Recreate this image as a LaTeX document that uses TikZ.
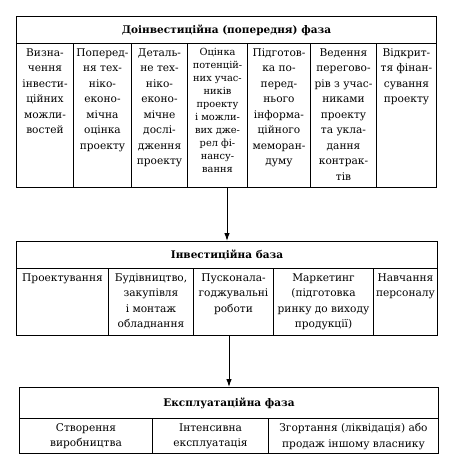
\documentclass[tikz,border=0pt]{standalone}
\usepackage{fontspec}
\setmainfont{DejaVu Serif}
\usetikzlibrary{arrows.meta}
\tikzset{cell/.style 2 args={draw, line width=1pt, inner sep=0pt, anchor=north west,
    font=\fontsize{10.6}{15.5}\selectfont,
    execute at begin node={\begin{minipage}[b][#2pt][t]{#1pt}\centering\vspace*{5pt}},
    execute at end node={\end{minipage}}},
  head/.style={draw, line width=1pt, inner sep=0pt, anchor=north west,
    font=\fontsize{10.5}{12}\selectfont\bfseries},
  arr/.style={-{Latex[length=8pt,width=5.5pt]}, line width=1pt}}

\begin{document}
\begin{tikzpicture}[x=1pt,y=-1pt]
\useasboundingbox (0,0) rectangle (455,461);
% pre-investment phase
\node[head, minimum width=420, minimum height=27] (hd1) at (16,16) {Доінвестиційна (попередня) фаза};
\node[cell={57}{144}] (c1) at (16,43) {Визна-\\чення\\інвести-\\ційних\\можли-\\востей};
\node[cell={58}{144}] (c2) at (73,43) {Поперед-\\ня тех-\\ніко-\\еконо-\\мічна\\оцінка\\проекту};
\node[cell={56}{144}] (c3) at (131,43) {Деталь-\\не тех-\\ніко-\\еконо-\\мічне\\дослі-\\дження\\проекту};
\node[cell={60}{144}, font=\fontsize{9.8}{13}\selectfont] (c4) at (187,43) {Оцінка\\потенцій-\\них учас-\\ників\\проекту\\і можли-\\вих дже-\\рел фі-\\нансу-\\вання};
\node[cell={63}{144}] (c5) at (247,43) {Підготов-\\ка по-\\перед-\\нього\\інформа-\\ційного\\меморан-\\думу};
\node[cell={66}{144}] (c6) at (310,43) {Ведення\\перегово-\\рів з учас-\\никами\\проекту\\та укла-\\дання\\контрак-\\тів};
\node[cell={60}{144}] (c7) at (376,43) {Відкрит-\\тя фінан-\\сування\\проекту};
% investment phase
\node[head, minimum width=421, minimum height=27] (hd2) at (16,241) {Інвестиційна база};
\node[cell={92}{67}] (b1) at (16,268) {Проектування};
\node[cell={85}{67}] (b2) at (108,268) {Будівництво,\\закупівля\\і монтаж\\обладнання};
\node[cell={80}{67}] (b3) at (193,268) {Пусконала-\\годжувальні\\роботи};
\node[cell={100}{67}] (b4) at (273,268) {Маркетинг\\(підготовка\\ринку до виходу\\продукції)};
\node[cell={64}{67}] (b5) at (373,268) {Навчання\\персоналу};
% operation phase
\node[head, minimum width=419, minimum height=31] (hd3) at (19,387) {Експлуатаційна фаза};
\node[cell={133}{35}] (e1) at (19,418) {Створення\\виробництва};
\node[cell={116}{35}] (e2) at (152,418) {Інтенсивна\\експлуатація};
\node[cell={170}{35}] (e3) at (268,418) {Згортання (ліквідація) або\\продаж іншому власнику};
\draw[arr] (hd2.north |- c4.south) -- (hd2.north);
\draw[arr] (hd3.north |- b3.south) -- (hd3.north);
\end{tikzpicture}
\end{document}
